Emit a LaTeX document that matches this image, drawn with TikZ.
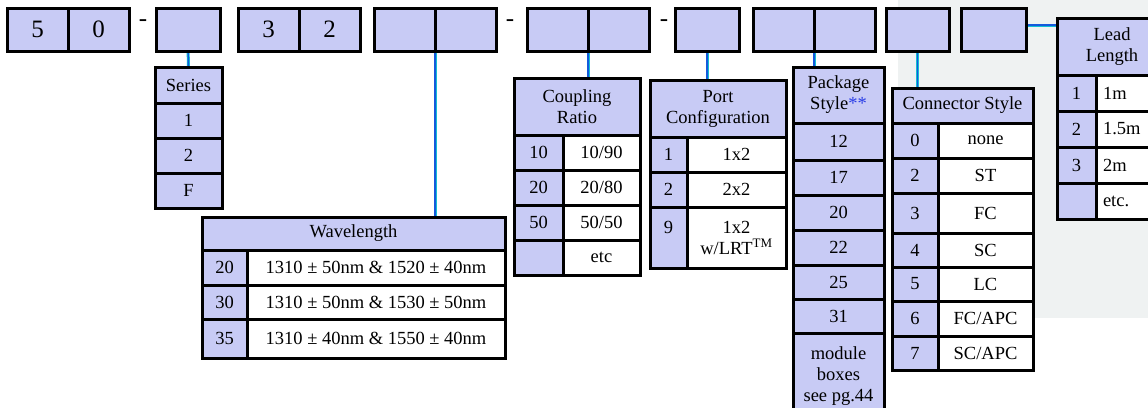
\documentclass[tikz,border=0pt]{standalone}
\usepackage{fontspec}
\setmainfont{Liberation Serif}
\usepackage{xcolor}
\usetikzlibrary{positioning,backgrounds}
\definecolor{cellblue}{RGB}{200,203,245}
\definecolor{linkblue}{RGB}{20,90,220}
\definecolor{linkcyan}{RGB}{20,190,210}
\definecolor{backgrey}{RGB}{239,242,242}
\definecolor{starblue}{RGB}{40,60,230}

\begin{document}
\begin{tikzpicture}[x=1pt,y=-1pt,font=\fontsize{18.5}{21}\selectfont,
  cell/.style={draw,line width=3pt,fill=cellblue,align=center,inner sep=0pt,outer sep=0pt},
  val/.style={cell,fill=white},
  digit/.style={cell,minimum width=61pt,minimum height=43pt,font=\fontsize{25}{25}\selectfont},
  hyph/.style={inner sep=0pt,anchor=base,font=\fontsize{25}{25}\selectfont},
  link/.style={draw=linkcyan,line width=3pt,postaction={draw=linkblue,line width=1.4pt}}]
\useasboundingbox (0,0) rectangle (1148,407);
\clip (0,0) rectangle (1148,407);
% part number boxes
\node[digit,anchor=north west] (d5) at (7,8) {5};
\node[digit,right=0pt of d5] (d0) {0};
\node[hyph] (hypa) at (143,26) {-};
\node[digit,anchor=north west,minimum width=64pt] (dser) at (156,8) {};
\node[digit,anchor=north west] (d3) at (238,8) {3};
\node[digit,right=0pt of d3] (d2) {2};
\node[digit,anchor=north west] (dwa) at (374,8) {};
\node[digit,right=0pt of dwa] (dwb) {};
\node[hyph] (hypb) at (510,26) {-};
\node[digit,anchor=north west] (dca) at (527,8) {};
\node[digit,right=0pt of dca] (dcb) {};
\node[hyph] (hypc) at (664,26) {-};
\node[digit,anchor=north west,minimum width=64pt] (dpc) at (675,8) {};
\node[digit,anchor=north west] (dpa) at (753,8) {};
\node[digit,right=0pt of dpa] (dpb) {};
\node[digit,anchor=north west,minimum width=63pt] (dcs) at (886,8) {};
\node[digit,anchor=north west,minimum width=65pt] (dll) at (961,8) {};
% series
\node[cell,anchor=north west,minimum width=67pt,minimum height=36pt] (ser) at (155,67) {Series};
\node[cell,below=0pt of ser,minimum width=67pt,minimum height=35pt] (ser1) {1};
\node[cell,below=0pt of ser1,minimum width=67pt,minimum height=35pt] (ser2) {2};
\node[cell,below=0pt of ser2,minimum width=67pt,minimum height=35pt] (serf) {F};
% wavelength
\node[cell,anchor=north west,minimum width=303pt,minimum height=33pt] (wl) at (202,217) {Wavelength};
\node[cell,anchor=north west,minimum width=45pt,minimum height=35pt] (wl20k) at (wl.south west) {20};
\node[val,right=0pt of wl20k,minimum width=258pt,minimum height=35pt] (wl20) {1310 ± 50nm \& 1520 ± 40nm};
\node[cell,anchor=north west,minimum width=45pt,minimum height=34pt] (wl30k) at (wl20k.south west) {30};
\node[val,right=0pt of wl30k,minimum width=258pt,minimum height=34pt] (wl30) {1310 ± 50nm \& 1530 ± 50nm};
\node[cell,anchor=north west,minimum width=45pt,minimum height=39pt] (wl35k) at (wl30k.south west) {35};
\node[val,right=0pt of wl35k,minimum width=258pt,minimum height=39pt] (wl35) {1310 ± 40nm \& 1550 ± 40nm};
% coupling ratio
\node[cell,anchor=north west,minimum width=126pt,minimum height=57pt] (cr) at (514,78) {Coupling\\Ratio};
\node[cell,anchor=north west,minimum width=49pt,minimum height=35pt] (cr10k) at (cr.south west) {10};
\node[val,right=0pt of cr10k,minimum width=77pt,minimum height=35pt] (cr10) {10/90};
\node[cell,anchor=north west,minimum width=49pt,minimum height=35pt] (cr20k) at (cr10k.south west) {20};
\node[val,right=0pt of cr20k,minimum width=77pt,minimum height=35pt] (cr20) {20/80};
\node[cell,anchor=north west,minimum width=49pt,minimum height=35pt] (cr50k) at (cr20k.south west) {50};
\node[val,right=0pt of cr50k,minimum width=77pt,minimum height=35pt] (cr50) {50/50};
\node[cell,anchor=north west,minimum width=49pt,minimum height=35pt] (crxk) at (cr50k.south west) {};
\node[val,right=0pt of crxk,minimum width=77pt,minimum height=35pt] (crx) {etc};
% port configuration
\node[cell,anchor=north west,minimum width=136pt,minimum height=57pt] (pc) at (650,80) {Port\\Configuration};
\node[cell,anchor=north west,minimum width=37pt,minimum height=35pt] (pc1k) at (pc.south west) {1};
\node[val,right=0pt of pc1k,minimum width=99pt,minimum height=35pt] (pc1) {1x2};
\node[cell,anchor=north west,minimum width=37pt,minimum height=35pt] (pc2k) at (pc1k.south west) {2};
\node[val,right=0pt of pc2k,minimum width=99pt,minimum height=35pt] (pc2) {2x2};
\node[cell,anchor=north west,minimum width=37pt,minimum height=61pt] (pc9k) at (pc2k.south west) {9\\ \phantom{0}};
\node[val,right=0pt of pc9k,minimum width=99pt,minimum height=61pt] (pc9) {1x2\\w/LRT\textsuperscript{TM}};
% package style
\node[cell,anchor=north west,minimum width=91pt,minimum height=56pt] (ps) at (793,67) {Package\\Style{\color{starblue}**}};
\node[cell,below=0pt of ps,minimum width=91pt,minimum height=37pt] (ps12) {12};
\node[cell,below=0pt of ps12,minimum width=91pt,minimum height=35pt] (ps17) {17};
\node[cell,below=0pt of ps17,minimum width=91pt,minimum height=35pt] (ps20) {20};
\node[cell,below=0pt of ps20,minimum width=91pt,minimum height=35pt] (ps22) {22};
\node[cell,below=0pt of ps22,minimum width=91pt,minimum height=34pt] (ps25) {25};
\node[cell,below=0pt of ps25,minimum width=91pt,minimum height=34pt] (ps31) {31};
\node[cell,below=0pt of ps31,minimum width=91pt,minimum height=87pt] (psmod) {module\\boxes\\see pg.44};
% connector style
\node[cell,anchor=north west,minimum width=141pt,minimum height=35pt] (cs) at (892,88) {Connector Style};
\node[cell,anchor=north west,minimum width=46pt,minimum height=35pt] (cs0k) at (cs.south west) {0};
\node[val,right=0pt of cs0k,minimum width=95pt,minimum height=35pt] (cs0) {none};
\node[cell,anchor=north west,minimum width=46pt,minimum height=35pt] (cs2k) at (cs0k.south west) {2};
\node[val,right=0pt of cs2k,minimum width=95pt,minimum height=35pt] (cs2) {ST};
\node[cell,anchor=north west,minimum width=46pt,minimum height=40pt] (cs3k) at (cs2k.south west) {3};
\node[val,right=0pt of cs3k,minimum width=95pt,minimum height=40pt] (cs3) {FC};
\node[cell,anchor=north west,minimum width=46pt,minimum height=34pt] (cs4k) at (cs3k.south west) {4};
\node[val,right=0pt of cs4k,minimum width=95pt,minimum height=34pt] (cs4) {SC};
\node[cell,anchor=north west,minimum width=46pt,minimum height=34pt] (cs5k) at (cs4k.south west) {5};
\node[val,right=0pt of cs5k,minimum width=95pt,minimum height=34pt] (cs5) {LC};
\node[cell,anchor=north west,minimum width=46pt,minimum height=35pt] (cs6k) at (cs5k.south west) {6};
\node[val,right=0pt of cs6k,minimum width=95pt,minimum height=35pt] (cs6) {FC/APC};
\node[cell,anchor=north west,minimum width=46pt,minimum height=34pt] (cs7k) at (cs6k.south west) {7};
\node[val,right=0pt of cs7k,minimum width=95pt,minimum height=34pt] (cs7) {SC/APC};
% lead length
\node[cell,anchor=north west,minimum width=110pt,minimum height=57pt,text width=96pt] (ll) at (1057,18) {Lead\\Length};
\node[cell,anchor=north west,minimum width=39pt,minimum height=36pt] (ll1k) at (ll.south west) {1};
\node[val,right=0pt of ll1k,minimum height=36pt,text width=57pt,inner xsep=7pt,align=left] (ll1) {1m};
\node[cell,anchor=north west,minimum width=39pt,minimum height=36pt] (ll2k) at (ll1k.south west) {2};
\node[val,right=0pt of ll2k,minimum height=36pt,text width=57pt,inner xsep=7pt,align=left] (ll2) {1.5m};
\node[cell,anchor=north west,minimum width=39pt,minimum height=36pt] (ll3k) at (ll2k.south west) {3};
\node[val,right=0pt of ll3k,minimum height=36pt,text width=57pt,inner xsep=7pt,align=left] (ll3) {2m};
\node[cell,anchor=north west,minimum width=39pt,minimum height=36pt] (llxk) at (ll3k.south west) {};
\node[val,right=0pt of llxk,minimum height=36pt,text width=57pt,inner xsep=7pt,align=left] (llx) {etc.};
% leaders
\begin{scope}[on background layer]
\fill[backgrey] (898,0) rectangle (1148,318);
\draw[link] (dser) -- (ser);
\draw[link] (dwa.south east) -- (dwa.south east |- wl.north);
\draw[link] (dca.south east) -- (dca.south east |- cr.north);
\draw[link] (dpc.south) -- (dpc.south |- pc.north);
\draw[link] (dpa.south east) -- (dpa.south east |- ps.north);
\draw[link] (dcs.south) -- (dcs.south |- cs.north);
\draw[link] ([yshift=4.5pt]dll.east) -- ([yshift=4.5pt]dll.east -| ll.west);
\end{scope}
\end{tikzpicture}
\end{document}
